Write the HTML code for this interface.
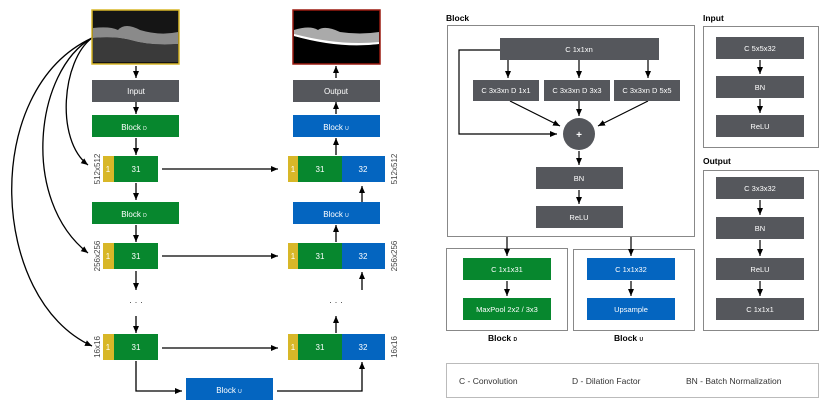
<!DOCTYPE html>
<html><head><meta charset="utf-8"><style>
html,body{margin:0;padding:0;background:#fff}
svg{display:block}
text{font-family:"Liberation Sans",sans-serif}
</style></head><body>
<svg width="822" height="410" viewBox="0 0 822 410" xmlns="http://www.w3.org/2000/svg">
<defs>
<marker id="a" markerWidth="8" markerHeight="8" refX="7" refY="4" orient="auto" markerUnits="userSpaceOnUse"><path d="M0,1 L7,4 L0,7 z" fill="#000"/></marker>
<linearGradient id="oct" x1="0" y1="0" x2="0" y2="1">
<stop offset="0" stop-color="#111"/><stop offset="0.35" stop-color="#1a1a1a"/><stop offset="0.45" stop-color="#9a9a9a"/><stop offset="0.6" stop-color="#bbb"/><stop offset="0.7" stop-color="#666"/><stop offset="1" stop-color="#222"/>
</linearGradient>
</defs>
<g fill="none" stroke="#000" stroke-width="1.3">
<!-- curves -->
<path d="M92,38 C62,60 55,140 88,165" marker-end="url(#a)"/>
<path d="M92,38 C35,70 20,200 88,253" marker-end="url(#a)"/>
<path d="M92,38 C-20,90 -10,300 92,346" marker-end="url(#a)"/>
<!-- left vertical arrows -->
<path d="M136,66 V78" marker-end="url(#a)"/>
<path d="M136,102 V114" marker-end="url(#a)"/>
<path d="M136,138 V155" marker-end="url(#a)"/>
<path d="M136,183 V200" marker-end="url(#a)"/>
<path d="M136,225 V242" marker-end="url(#a)"/>
<path d="M136,271 V290" marker-end="url(#a)"/>
<path d="M136,316 V333" marker-end="url(#a)"/>
<path d="M136,361 V391 H182" marker-end="url(#a)"/>
<path d="M277,391 H362 V362" marker-end="url(#a)"/>
<!-- horizontals -->
<path d="M162,169 H278" marker-end="url(#a)"/>
<path d="M162,256 H278" marker-end="url(#a)"/>
<path d="M162,348 H278" marker-end="url(#a)"/>
<!-- right up arrows -->
<path d="M336,78 V66" marker-end="url(#a)"/>
<path d="M336,114 V102" marker-end="url(#a)"/>
<path d="M336,155 V138" marker-end="url(#a)"/>
<path d="M362,202 V186" marker-end="url(#a)"/>
<path d="M336,242 V225" marker-end="url(#a)"/>
<path d="M362,290 V272" marker-end="url(#a)"/>
<path d="M336,333 V316" marker-end="url(#a)"/>
</g>
<!-- images -->
<rect x="92" y="10" width="87" height="54" fill="#151515" stroke="#d8b728" stroke-width="1.5"/>
<path d="M93,28 Q110,26 118,30 Q125,22 140,30 Q160,36 178,32 V44 Q150,46 130,40 Q115,36 93,38 z" fill="#8a8a8a"/>
<path d="M93,38 Q115,36 130,40 Q150,46 178,44 V62 H93 z" fill="#3a3a3a"/>
<rect x="293" y="10" width="87" height="54" fill="#000" stroke="#9b1a10" stroke-width="1.5"/>
<path d="M294,30 Q310,25 318,30 Q325,25 340,32 Q360,35 379,32 V44 Q340,48 294,36 z" fill="#aaa"/>
<path d="M294,34 Q340,46 379,42 V44 Q340,49 294,36 z" fill="#fff"/>
<!-- left boxes -->
<g font-size="8" fill="#fff" text-anchor="middle">
<rect x="92" y="80" width="87" height="22" fill="#55575c"/><text x="136" y="94">Input</text>
<rect x="293" y="80" width="87" height="22" fill="#55575c"/><text x="336" y="94">Output</text>
<rect x="92" y="115" width="87" height="22" fill="#07872e"/><text x="134" y="130">Block <tspan font-size="5">D</tspan></text>
<rect x="92" y="202" width="87" height="22" fill="#07872e"/><text x="134" y="217">Block <tspan font-size="5">D</tspan></text>
<rect x="293" y="115" width="87" height="22" fill="#0465c0"/><text x="336" y="130">Block <tspan font-size="5">U</tspan></text>
<rect x="293" y="202" width="87" height="22" fill="#0465c0"/><text x="336" y="217">Block <tspan font-size="5">U</tspan></text>
<rect x="186" y="378" width="87" height="22" fill="#0465c0"/><text x="229" y="393">Block <tspan font-size="5">U</tspan></text>
<!-- rows -->
<g>
<rect x="103" y="156" width="11" height="26" fill="#d8b728"/><rect x="114" y="156" width="44" height="26" fill="#07872e"/><text x="108" y="172">1</text><text x="136" y="172">31</text>
<rect x="103" y="243" width="11" height="26" fill="#d8b728"/><rect x="114" y="243" width="44" height="26" fill="#07872e"/><text x="108" y="259">1</text><text x="136" y="259">31</text>
<rect x="103" y="334" width="11" height="26" fill="#d8b728"/><rect x="114" y="334" width="44" height="26" fill="#07872e"/><text x="108" y="350">1</text><text x="136" y="350">31</text>
<rect x="288" y="156" width="10" height="26" fill="#d8b728"/><rect x="298" y="156" width="44" height="26" fill="#07872e"/><rect x="342" y="156" width="43" height="26" fill="#0465c0"/><text x="293" y="172">1</text><text x="320" y="172">31</text><text x="363" y="172">32</text>
<rect x="288" y="243" width="10" height="26" fill="#d8b728"/><rect x="298" y="243" width="44" height="26" fill="#07872e"/><rect x="342" y="243" width="43" height="26" fill="#0465c0"/><text x="293" y="259">1</text><text x="320" y="259">31</text><text x="363" y="259">32</text>
<rect x="288" y="334" width="10" height="26" fill="#d8b728"/><rect x="298" y="334" width="44" height="26" fill="#07872e"/><rect x="342" y="334" width="43" height="26" fill="#0465c0"/><text x="293" y="350">1</text><text x="320" y="350">31</text><text x="363" y="350">32</text>
</g>
</g>
<g font-size="8" fill="#444" text-anchor="middle">
<text transform="translate(100,169) rotate(-90)">512x512</text>
<text transform="translate(100,256) rotate(-90)">256x256</text>
<text transform="translate(100,347) rotate(-90)">16x16</text>
<text transform="translate(397,169) rotate(-90)">512x512</text>
<text transform="translate(397,256) rotate(-90)">256x256</text>
<text transform="translate(397,347) rotate(-90)">16x16</text>
<text x="136" y="305" font-size="9">· · ·</text>
<text x="336" y="305" font-size="9">· · ·</text>
</g>
<!-- right panel -->
<g font-size="8.5" font-weight="bold" fill="#000">
<text x="446" y="21">Block</text><text x="703" y="21">Input</text><text x="703" y="164">Output</text>
<text x="488" y="341">Block <tspan font-size="5">D</tspan></text><text x="614" y="341">Block <tspan font-size="5">U</tspan></text>
</g>
<g fill="none" stroke="#888" stroke-width="1">
<rect x="447.5" y="25.5" width="247" height="211"/>
<rect x="703.5" y="26.5" width="115" height="121"/>
<rect x="703.5" y="170.5" width="115" height="160"/>
<rect x="446.5" y="248.5" width="121" height="82"/>
<rect x="573.5" y="249.5" width="121" height="81"/>
<rect x="446.5" y="363.5" width="372" height="34" stroke="#bbb"/>
</g>
<g fill="none" stroke="#000" stroke-width="1.2">
<path d="M500,50 H459 V134 H557" marker-end="url(#a)"/>
<path d="M508,60 V78" marker-end="url(#a)"/>
<path d="M579,60 V78" marker-end="url(#a)"/>
<path d="M648,60 V78" marker-end="url(#a)"/>
<path d="M510,101 L560,126" marker-end="url(#a)"/>
<path d="M579,101 V116" marker-end="url(#a)"/>
<path d="M648,101 L598,126" marker-end="url(#a)"/>
<path d="M579,151 V165" marker-end="url(#a)"/>
<path d="M579,190 V204" marker-end="url(#a)"/>
<path d="M507,237 V256" marker-end="url(#a)"/>
<path d="M631,237 V256" marker-end="url(#a)"/>
<path d="M507,281 V296" marker-end="url(#a)"/>
<path d="M631,281 V296" marker-end="url(#a)"/>
<path d="M760,60 V74" marker-end="url(#a)"/>
<path d="M760,99 V113" marker-end="url(#a)"/>
<path d="M760,200 V215" marker-end="url(#a)"/>
<path d="M760,240 V256" marker-end="url(#a)"/>
<path d="M760,281 V296" marker-end="url(#a)"/>
</g>
<g font-size="7.5" fill="#fff" text-anchor="middle">
<rect x="500" y="38" width="159" height="22" fill="#55575c"/><text x="579" y="52">C 1x1xn</text>
<rect x="473" y="80" width="66" height="21" fill="#55575c"/><text x="506" y="93">C 3x3xn D 1x1</text>
<rect x="544" y="80" width="66" height="21" fill="#55575c"/><text x="577" y="93">C 3x3xn D 3x3</text>
<rect x="614" y="80" width="66" height="21" fill="#55575c"/><text x="647" y="93">C 3x3xn D 5x5</text>
<circle cx="579" cy="134" r="16" fill="#55575c"/><text x="579" y="138" font-size="10" font-weight="bold">+</text>
<rect x="536" y="167" width="87" height="22" fill="#55575c"/><text x="579" y="181">BN</text>
<rect x="536" y="206" width="87" height="22" fill="#55575c"/><text x="579" y="220">ReLU</text>
<rect x="716" y="37" width="88" height="22" fill="#55575c"/><text x="760" y="51">C 5x5x32</text>
<rect x="716" y="76" width="88" height="22" fill="#55575c"/><text x="760" y="90">BN</text>
<rect x="716" y="115" width="88" height="22" fill="#55575c"/><text x="760" y="129">ReLU</text>
<rect x="716" y="177" width="88" height="22" fill="#55575c"/><text x="760" y="191">C 3x3x32</text>
<rect x="716" y="217" width="88" height="22" fill="#55575c"/><text x="760" y="231">BN</text>
<rect x="716" y="258" width="88" height="22" fill="#55575c"/><text x="760" y="272">ReLU</text>
<rect x="716" y="298" width="88" height="22" fill="#55575c"/><text x="760" y="312">C 1x1x1</text>
<rect x="463" y="258" width="88" height="22" fill="#07872e"/><text x="507" y="272">C 1x1x31</text>
<rect x="463" y="298" width="88" height="22" fill="#07872e"/><text x="507" y="312">MaxPool 2x2 / 3x3</text>
<rect x="587" y="258" width="88" height="22" fill="#0465c0"/><text x="631" y="272">C 1x1x32</text>
<rect x="587" y="298" width="88" height="22" fill="#0465c0"/><text x="631" y="312">Upsample</text>
</g>
<g font-size="8.5" fill="#333">
<text x="459" y="384">C - Convolution</text>
<text x="572" y="384">D - Dilation Factor</text>
<text x="686" y="384">BN - Batch Normalization</text>
</g>
</svg>
</body></html>
